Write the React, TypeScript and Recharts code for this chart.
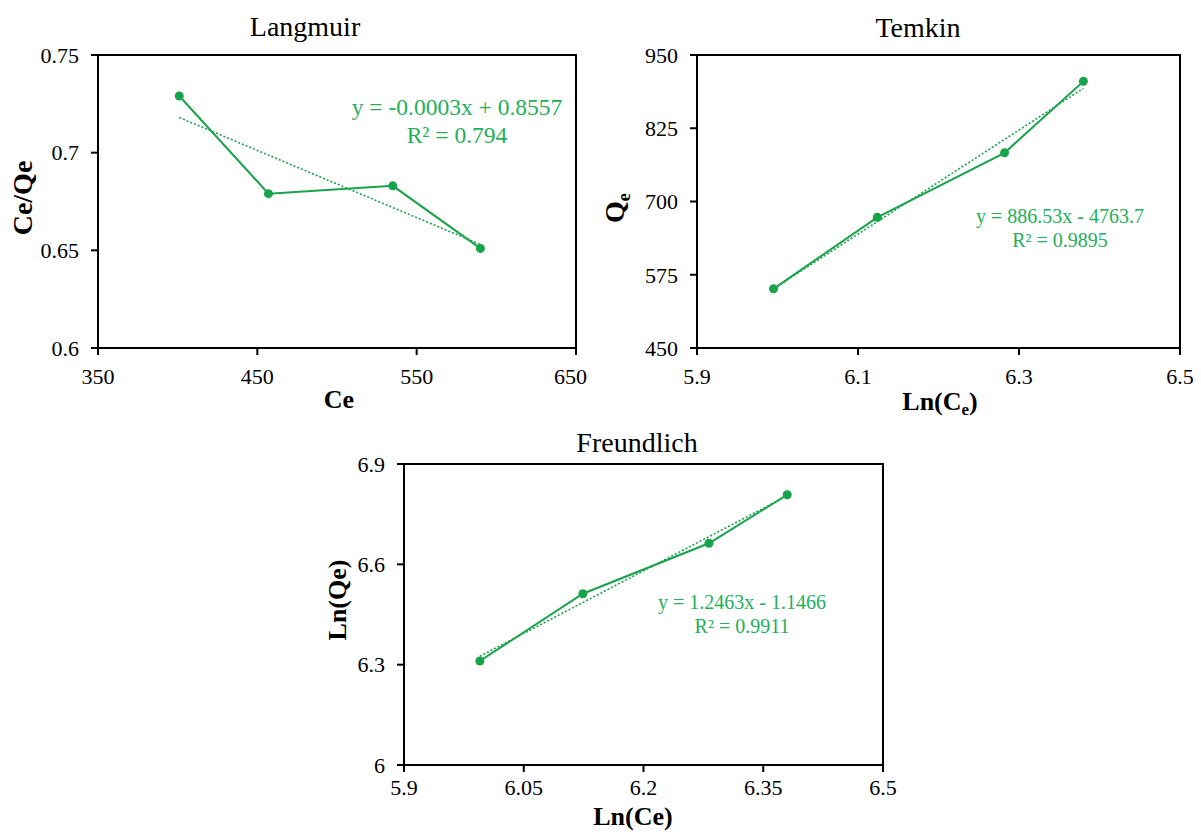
import React from "react";
import { LineChart, Line, XAxis, YAxis, ReferenceArea } from "recharts";

// measured points (same 4 samples in all three models)
const ceValues = [401, 457, 535, 590];
const ceOverQe = [0.729, 0.679, 0.683, 0.651];
const lnCeValues = [5.995, 6.124, 6.282, 6.38];
const qeValues = [551, 673, 783, 905];
const lnQeValues = [6.311, 6.512, 6.663, 6.808];

// trendline end points
const langmuirTrendX = [401, 590];
const langmuirTrendY = [0.718, 0.653];
const temkinTrendX = [5.995, 6.38];
const temkinTrendY = [551, 893];
const freundlichTrendX = [5.995, 6.38];
const freundlichTrendY = [6.325, 6.805];

// axis ticks
const langmuirXTicks = [350, 450, 550, 650];
const langmuirYTicks = [0.6, 0.65, 0.7, 0.75];
const temkinXTicks = [5.9, 6.1, 6.3, 6.5];
const temkinYTicks = [450, 575, 700, 825, 950];
const freundlichXTicks = [5.9, 6.05, 6.2, 6.35, 6.5];
const freundlichYTicks = [6, 6.3, 6.6, 6.9];

const SERIF = '"Liberation Serif", "Times New Roman", serif';
const LINE = "#17a34a";
const EQ = "#22b05a";

const toPoints = (xs: number[], ys: number[]) => xs.map((x, i) => ({ x, y: ys[i] }));

interface PanelProps {
  left: number;
  top: number;
  width: number;
  height: number;
  margin: { top: number; right: number; bottom: number; left: number };
  yAxisWidth: number;
  xTickMargin: number;
  xs: number[];
  ys: number[];
  trendX: number[];
  trendY: number[];
  xTicks: number[];
  yTicks: number[];
}

function Panel(p: PanelProps) {
  const xDomain = [p.xTicks[0], p.xTicks[p.xTicks.length - 1]];
  const yDomain = [p.yTicks[0], p.yTicks[p.yTicks.length - 1]];
  const tick = { fill: "#000", fontSize: 22, fontFamily: SERIF };
  return (
    <div style={{ position: "absolute", left: p.left, top: p.top, width: p.width, height: p.height, overflow: "hidden" }}>
      <LineChart width={p.width} height={p.height} margin={p.margin}>
        <XAxis
          type="number"
          dataKey="x"
          domain={xDomain}
          ticks={p.xTicks}
          allowDataOverflow
          height={30}
          tick={tick}
          tickSize={7}
          tickMargin={p.xTickMargin}
          stroke="#000"
          strokeWidth={2}
        />
        <YAxis
          type="number"
          dataKey="y"
          domain={yDomain}
          ticks={p.yTicks}
          allowDataOverflow
          width={p.yAxisWidth}
          tick={tick}
          tickSize={7}
          tickMargin={12}
          stroke="#000"
          strokeWidth={2}
        />
        <ReferenceArea
          x1={xDomain[0]}
          x2={xDomain[1]}
          y1={yDomain[0]}
          y2={yDomain[1]}
          fill="none"
          stroke="#000"
          strokeWidth={2}
          ifOverflow="visible"
        />
        <Line
          data={toPoints(p.trendX, p.trendY)}
          dataKey="y"
          stroke={LINE}
          strokeWidth={1.6}
          strokeDasharray="2 2"
          dot={false}
          isAnimationActive={false}
        />
        <Line
          data={toPoints(p.xs, p.ys)}
          dataKey="y"
          stroke={LINE}
          strokeWidth={2}
          dot={{ r: 4.5, fill: LINE, stroke: LINE, strokeWidth: 0 }}
          isAnimationActive={false}
        />
      </LineChart>
    </div>
  );
}

const abs = (left: number, top: number, extra: React.CSSProperties = {}): React.CSSProperties => ({
  position: "absolute",
  left,
  top,
  fontFamily: SERIF,
  color: "#000",
  whiteSpace: "nowrap",
  lineHeight: 1,
  ...extra,
});

function Title({ x, y, text }: { x: number; y: number; text: string }) {
  return <div style={abs(x, y, { fontSize: 28, transform: "translate(-50%, -50%)" })}>{text}</div>;
}

function AxisLabel({ x, y, size = 26, children, rotate }: { x: number; y: number; size?: number; children: React.ReactNode; rotate?: boolean }) {
  return (
    <div
      style={abs(x, y, {
        fontSize: size,
        fontWeight: "bold",
        transform: rotate ? "translate(-50%, -50%) rotate(-90deg)" : "translate(-50%, -50%)",
      })}
    >
      {children}
    </div>
  );
}

function Equation({ x, y, size, gap, lines }: { x: number; y: number; size: number; gap: number; lines: string[] }) {
  return (
    <div style={abs(x, y, { fontSize: size, color: EQ, textAlign: "center", lineHeight: `${gap}px`, transform: "translateX(-50%)" })}>
      {lines.map((l, i) => (
        <div key={i}>{l}</div>
      ))}
    </div>
  );
}

const sub: React.CSSProperties = { fontSize: "0.65em", verticalAlign: "-0.3em" };

export default function App() {
  return (
    <div style={{ position: "absolute", left: 0, top: 0, width: 1201, height: 833, background: "#fff", overflow: "hidden" }}>
      <Panel
        left={0}
        top={0}
        width={587}
        height={420}
        margin={{ top: 55, right: 11, bottom: 42, left: 0 }}
        yAxisWidth={98}
        xTickMargin={13}
        xs={ceValues}
        ys={ceOverQe}
        trendX={langmuirTrendX}
        trendY={langmuirTrendY}
        xTicks={langmuirXTicks}
        yTicks={langmuirYTicks}
      />
      <Panel
        left={600}
        top={0}
        width={601}
        height={420}
        margin={{ top: 55, right: 21, bottom: 42, left: 0 }}
        yAxisWidth={97}
        xTickMargin={13}
        xs={lnCeValues}
        ys={qeValues}
        trendX={temkinTrendX}
        trendY={temkinTrendY}
        xTicks={temkinXTicks}
        yTicks={temkinYTicks}
      />
      <Panel
        left={300}
        top={420}
        width={600}
        height={413}
        margin={{ top: 44, right: 17, bottom: 38, left: 0 }}
        yAxisWidth={104}
        xTickMargin={7}
        xs={lnCeValues}
        ys={lnQeValues}
        trendX={freundlichTrendX}
        trendY={freundlichTrendY}
        xTicks={freundlichXTicks}
        yTicks={freundlichYTicks}
      />

      <Title x={305} y={27} text="Langmuir" />
      <Title x={918} y={28} text="Temkin" />
      <Title x={637} y={443} text="Freundlich" />

      <AxisLabel x={339} y={400}>Ce</AxisLabel>
      <AxisLabel x={23} y={198} size={28} rotate>Ce/Qe</AxisLabel>

      <AxisLabel x={940} y={404}>
        Ln(C<span style={sub}>e</span>)
      </AxisLabel>
      <AxisLabel x={617} y={208} size={28} rotate>
        Q<span style={sub}>e</span>
      </AxisLabel>

      <AxisLabel x={633} y={817}>Ln(Ce)</AxisLabel>
      <AxisLabel x={338} y={600} rotate>Ln(Qe)</AxisLabel>

      <Equation x={457} y={93} size={23.5} gap={28} lines={["y = -0.0003x + 0.8557", "R² = 0.794"]} />
      <Equation x={1060} y={204} size={20} gap={24} lines={["y = 886.53x - 4763.7", "R² = 0.9895"]} />
      <Equation x={742} y={590} size={20} gap={24} lines={["y = 1.2463x - 1.1466", "R² = 0.9911"]} />
    </div>
  );
}
